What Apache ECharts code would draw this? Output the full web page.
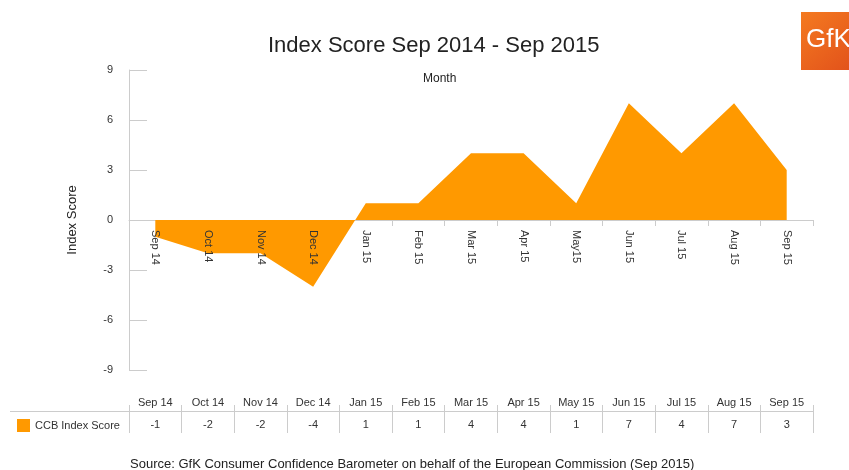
<!DOCTYPE html>
<html>
<head>
<meta charset="utf-8">
<script src="https://cdn.jsdelivr.net/npm/echarts@6/dist/echarts.min.js"></script>
<style>
  html, body { margin: 0; padding: 0; background: #fff; }
  #chart { width: 849px; height: 470px; }
</style>
</head>
<body>
<div id="chart"></div>
<script>
// data
const months = ['Sep 14', 'Oct 14', 'Nov 14', 'Dec 14', 'Jan 15', 'Feb 15', 'Mar 15', 'Apr 15', 'May 15', 'Jun 15', 'Jul 15', 'Aug 15', 'Sep 15']
const axisMonths = ['Sep 14', 'Oct 14', 'Nov 14', 'Dec 14', 'Jan 15', 'Feb 15', 'Mar 15', 'Apr 15', 'May15', 'Jun 15', 'Jul 15', 'Aug 15', 'Sep 15']
const scores = [-1, -2, -2, -4, 1, 1, 4, 4, 1, 7, 4, 7, 3]
const yMin = -9
const yMax = 9
const yStep = 3
const seriesName = 'CCB Index Score'

const font = 'Liberation Sans, Arial, sans-serif'
const orange = '#ff9900'
const grey = '#cccccc'

// plot area: 300px tall, zero sits in the middle
const plotTop = 70
const plotHeight = 300
const zeroOffset = -plotHeight * (0 - yMin) / (yMax - yMin)

const chart = echarts.init(document.getElementById('chart'))

const option = {
  animation: false,
  title: {
    text: 'Index Score Sep 2014 - Sep 2015',
    left: 263,
    top: 30,
    textStyle: { fontFamily: font, fontSize: 22, fontWeight: 'normal', color: '#222' }
  },
  legend: {
    data: [seriesName],
    left: 12,
    top: 414,
    icon: 'rect',
    itemWidth: 13,
    itemHeight: 13,
    selectedMode: false,
    textStyle: { fontFamily: font, fontSize: 11, color: '#333' }
  },
  grid: [
    { left: 129, right: 36, top: plotTop, height: plotHeight },   // chart
    { left: 129, right: 36, top: 411, height: 22 }                // data table
  ],
  xAxis: [
    {
      // zero line + ticks, sits under the area
      type: 'category',
      gridIndex: 0,
      position: 'bottom',
      z: 0,
      offset: zeroOffset,
      data: axisMonths,
      boundaryGap: true,
      axisLine: { onZero: false, lineStyle: { color: grey } },
      axisTick: { show: true, interval: 0, length: 6, lineStyle: { color: grey } },
      axisLabel: { show: false }
    },
    {
      // month labels on top of the area
      type: 'category',
      gridIndex: 0,
      position: 'bottom',
      z: 5,
      offset: zeroOffset,
      data: axisMonths,
      boundaryGap: true,
      axisLine: { show: false, onZero: false },
      axisTick: { show: false },
      axisLabel: { interval: 0, rotate: -90, margin: 10, fontFamily: font, fontSize: 11, color: '#333' }
    },
    {
      // header row of the table
      type: 'category',
      gridIndex: 1,
      position: 'top',
      data: months,
      axisLine: { onZero: false, lineStyle: { color: grey } },
      axisTick: { show: true, interval: 0, length: 6, lineStyle: { color: grey } },
      axisLabel: { interval: 0, margin: 3, fontFamily: font, fontSize: 11, color: '#333' }
    },
    {
      // value row of the table
      type: 'category',
      gridIndex: 1,
      position: 'bottom',
      data: months,
      axisLine: { show: false, onZero: false },
      axisTick: { show: true, interval: 0, inside: true, length: 22, lineStyle: { color: grey } },
      axisLabel: {
        interval: 0,
        inside: true,
        margin: 3,
        fontFamily: font,
        fontSize: 11,
        color: '#333',
        formatter: function (v, i) { return String(scores[i]) }
      }
    }
  ],
  yAxis: [
    {
      type: 'value',
      gridIndex: 0,
      min: yMin,
      max: yMax,
      interval: yStep,
      name: 'Index Score',
      nameLocation: 'middle',
      nameGap: 50,
      nameTextStyle: { fontFamily: font, fontSize: 13, color: '#222' },
      splitLine: { show: false },
      axisLine: { show: true, onZero: false, lineStyle: { color: grey } },
      axisTick: { show: true, inside: true, length: 18, lineStyle: { color: grey } },
      axisLabel: { margin: 16, fontFamily: font, fontSize: 11, color: '#333' }
    },
    { type: 'value', gridIndex: 1, min: 0, max: 1, show: false }
  ],
  series: [
    {
      name: seriesName,
      type: 'line',
      xAxisIndex: 0,
      yAxisIndex: 0,
      z: 2,
      data: scores,
      showSymbol: false,
      symbol: 'none',
      lineStyle: { width: 0, color: orange },
      itemStyle: { color: orange },
      areaStyle: { color: orange, opacity: 1, origin: 0 }
    }
  ],
  graphic: [
    {
      type: 'text',
      left: 423,
      top: 73,
      style: { text: 'Month', fontFamily: font, fontSize: 12, fill: '#222' }
    },
    {
      type: 'line',
      shape: { x1: 10, y1: 411.5, x2: 129, y2: 411.5 },
      style: { stroke: grey, lineWidth: 1 }
    },
    {
      type: 'text',
      left: 130,
      top: 458,
      style: {
        text: 'Source: GfK Consumer Confidence Barometer on behalf of the European Commission (Sep 2015)',
        fontFamily: font,
        fontSize: 13,
        fill: '#222'
      }
    },
    {
      type: 'group',
      left: 801,
      top: 12,
      children: [
        {
          type: 'rect',
          shape: { x: 0, y: 0, width: 50, height: 58 },
          style: {
            fill: new echarts.graphic.LinearGradient(0, 0, 1, 1, [
              { offset: 0, color: '#f47a20' },
              { offset: 1, color: '#e2521b' }
            ])
          }
        },
        {
          type: 'text',
          x: 5,
          y: 15,
          style: { text: 'GfK', fontFamily: font, fontSize: 26, fill: '#fff' }
        }
      ]
    }
  ]
}

chart.setOption(option)
</script>
</body>
</html>
